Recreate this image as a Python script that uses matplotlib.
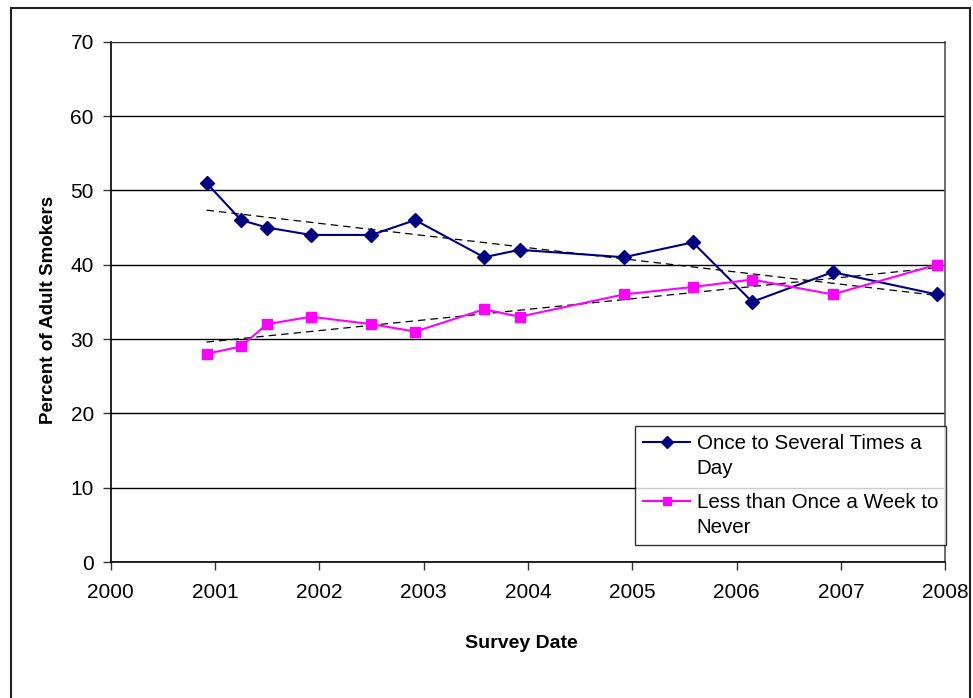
import matplotlib
matplotlib.use('Agg')
import matplotlib.pyplot as plt
import numpy as np
from matplotlib.patches import Rectangle
from matplotlib.legend_handler import HandlerLine2D

plt.rcParams['font.family'] = ['Liberation Sans', 'DejaVu Sans']

# survey dates as decimal years
dates = [2000.92, 2001.25, 2001.50, 2001.92, 2002.50, 2002.92, 2003.58,
         2003.92, 2004.92, 2005.58, 2006.15, 2006.92, 2007.92]
daily = [51, 46, 45, 44, 44, 46, 41, 42, 41, 43, 35, 39, 36]
rarely = [28, 29, 32, 33, 32, 31, 34, 33, 36, 37, 38, 36, 40]

label_daily = 'Once to Several Times a\nDay'
label_rarely = 'Less than Once a Week to\nNever'
xticks = list(range(2000, 2009))
yticks = list(range(0, 71, 10))


class TopLineHandler(HandlerLine2D):
    # put the legend key next to the first line of a two-line label
    def create_artists(self, legend, orig_handle, xdescent, ydescent,
                       width, height, fontsize, trans):
        arts = super().create_artists(legend, orig_handle, xdescent, ydescent,
                                      width, height, fontsize, trans)
        for a in arts:
            a.set_ydata(np.asarray(a.get_ydata(), dtype=float) + 0.7 * fontsize)
        return arts


fig = plt.figure(figsize=(9.73, 6.98), dpi=100)
ax = fig.add_axes([0.1136, 0.1948, 0.9715 - 0.1136, 0.9403 - 0.1948])

# outer chart border
fig.patches.append(Rectangle((11 / 973, -0.01), (970 - 11) / 973, 1.01 - 8 / 698,
                             transform=fig.transFigure, fill=False,
                             edgecolor='#222222', linewidth=1.5))

x = np.array(dates)
l1, = ax.plot(x, daily, color='#000080', marker='D', markersize=7, linewidth=1.5,
              label=label_daily, zorder=3)
l2, = ax.plot(x, rarely, color='#FF00FF', marker='s', markersize=7, linewidth=1.5,
              label=label_rarely, zorder=3)

# linear trendlines
for ys in (daily, rarely):
    p = np.polyfit(x, ys, 1)
    ax.plot([x[0], x[-1]], np.polyval(p, [x[0], x[-1]]), color='black',
            linestyle=(0, (6, 4)), linewidth=0.9, zorder=2)

ax.set_xlim(2000, 2008)
ax.set_ylim(0, 70)
ax.set_xticks(xticks)
ax.set_yticks(yticks)
ax.tick_params(axis='both', labelsize=15, direction='out', length=6, width=1,
               color='#333333')
ax.tick_params(axis='x', pad=9)
ax.tick_params(axis='y', pad=6)

ax.yaxis.grid(True, color='black', linewidth=1)
ax.set_axisbelow(True)
for s in ['left', 'bottom']:
    ax.spines[s].set_color('black')
    ax.spines[s].set_linewidth(1.2)
ax.spines['top'].set_color('#333333')
ax.spines['right'].set_color('#555555')
ax.spines['right'].set_linewidth(1.2)

ax.set_xlabel('Survey Date', fontsize=14, fontweight='bold')
ax.set_ylabel('Percent of Adult Smokers', fontsize=13.5, fontweight='bold')
ax.xaxis.set_label_coords(0.4917, -0.14)
ax.yaxis.set_label_coords(-0.064, 0.485)

leg = ax.legend(handles=[l1, l2], loc='lower right',
                bbox_to_anchor=(1.001, 0.032), fontsize=14.8,
                frameon=True, fancybox=False, edgecolor='black',
                handlelength=2.3, borderpad=0.4, labelspacing=0.75,
                handletextpad=0.3, borderaxespad=0,
                handler_map={l1: TopLineHandler(), l2: TopLineHandler()})
leg.get_frame().set_linewidth(1.0)
for t in leg.get_texts():
    t.set_linespacing(1.4)
for h in leg.legend_handles:
    h.set_markersize(6)

fig.savefig('out.png', dpi=100)
